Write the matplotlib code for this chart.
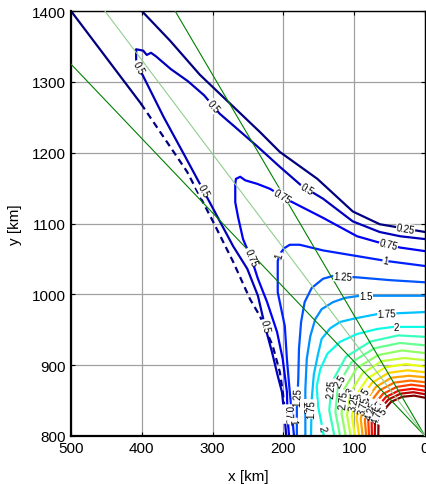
import numpy as np
import matplotlib
matplotlib.use("Agg")
import matplotlib.pyplot as plt

plt.rcParams['font.family'] = ['Liberation Sans', 'DejaVu Sans']

# ---------------- data (km) ----------------
VMIN, VMAX = 0.25, 5.0

# 0.25 contour: upper branch, left branch (solid start, then dashed)
c025_top_x = [400, 360, 318, 275, 233, 205, 152, 102, 64, 0]
c025_top_y = [1400, 1358, 1310, 1269, 1229, 1201, 1163, 1117, 1099, 1088]
c025_left_x = [500, 401]
c025_left_y = [1400, 1269]
c025_dash_x = [401, 336, 299, 271, 247, 233, 215, 205, 201, 199]
c025_dash_y = [1269, 1173, 1102, 1046, 993, 969, 927, 890, 863, 845]

c050_x = [0, 35, 64, 102, 144, 174, 205, 237, 268, 290, 312, 335, 359, 380, 387, 393,
          398, 408, 408, 405, 398, 369, 339, 318, 294, 271, 251, 236, 226, 216, 208, 202, 198, 196]
c050_y = [1078, 1082, 1088, 1103, 1135, 1153, 1180, 1209, 1236, 1255, 1281, 1301, 1318, 1336, 1341, 1338,
          1344, 1346, 1332, 1321, 1308, 1250, 1195, 1156, 1111, 1068, 1036, 998, 955, 918, 885, 862, 824, 800]

c075_x = [0, 35, 68, 96, 144, 191, 219, 237, 254, 261, 267, 268, 268, 264, 257, 244, 236, 223, 209, 201, 195, 194, 192]
c075_y = [1061, 1066, 1074, 1082, 1108, 1132, 1149, 1156, 1161, 1166, 1163, 1156, 1130, 1109, 1078, 1047, 1022,
          989, 947, 909, 862, 824, 800]

c100_x = [0, 54, 96, 144, 177, 191, 199, 205, 208, 208, 198, 195, 191, 188, 185]
c100_y = [1040, 1047, 1054, 1062, 1070, 1070, 1065, 1057, 1047, 1003, 955, 908, 862, 831, 800]

c125_x = [0, 49, 96, 130, 144, 160, 170, 175, 178, 179, 181, 181]
c125_y = [1017, 1020, 1024, 1026, 1022, 1009, 989, 961, 923, 880, 838, 800]

c150_x = [0, 50, 92, 113, 130, 146, 155, 162, 167, 169, 169, 169]
c150_y = [998, 998, 998, 995, 989, 979, 965, 941, 909, 866, 831, 800]

c175_x = [0, 68, 99, 120, 134, 146, 151, 157, 160, 161]
c175_y = [975, 972, 966, 961, 952, 937, 916, 887, 852, 800]

c200_x = [0, 45, 68, 96, 120, 138, 148, 153, 151, 146, 143]
c200_y = [954, 954, 951, 944, 933, 916, 894, 870, 842, 817, 800]

# near-source arcs around (0, 800): radius (km) at bearings 0..90 deg
arc_center = (0, 800)
arc_angles = [0, 15, 30, 45, 60, 75, 90]
arc_levels = [2.25, 2.5, 2.75, 3.0, 3.25, 3.5, 3.75, 4.0, 4.25, 4.5, 4.75, 5.0]
arc_radii = [
    [128, 140, 152, 158, 154, 147, 140],
    [120, 131, 142, 147, 143, 136, 128],
    [112, 122, 132, 136, 132, 125, 117],
    [105, 114, 122, 125, 122, 114, 107],
    [99, 107, 113, 115, 112, 105, 98],
    [93, 100, 105, 106, 103, 96, 90],
    [88, 94, 98, 98, 95, 88, 83],
    [83, 88, 91, 91, 87, 81, 76],
    [79, 83, 85, 84, 80, 75, 70],
    [75, 78, 79, 78, 74, 69, 64],
    [71, 73, 74, 73, 69, 64, 59],
    [66, 68, 69, 68, 64, 59, 54],
]
arc_label_angles = [27, 33, 24, 31, 26, 35, 27, 33, 26, 32, 25, 31]

# green rays from (0, 800): slopes (dy/dx)
ray_origin = (0, 800)
dark_ray_slopes = [1.05, 1.70]
light_ray_slopes = [1.327]

# contour labels: (level, x, y)
labels = [
    (0.25, 28, 1089),
    (0.5, 302, 1264), (0.5, 404, 1321), (0.5, 314, 1146), (0.5, 227, 955), (0.5, 167, 1149),
    (0.75, 203, 1137), (0.75, 247, 1052), (0.75, 52, 1068), (0.75, 195, 831),
    (1.0, 56, 1047), (1.0, 205, 1055), (1.0, 188, 821),
    (1.25, 116, 1026), (1.25, 179, 856),
    (1.5, 83, 995), (1.5, 168, 842),
    (1.75, 54, 971), (1.75, 154, 838),
    (2.0, 40, 954), (2.0, 143, 812),
]

xticks = [0, 100, 200, 300, 400, 500]
yticks = [800, 900, 1000, 1100, 1200, 1300, 1400]

# ---------------- figure ----------------
fig = plt.figure(figsize=(4.27, 4.85), dpi=100)
ax = fig.add_axes([71 / 427, 48 / 485, 354 / 427, 425 / 485])
ax.set_xlim(500, 0)
ax.set_ylim(800, 1400)
ax.set_xticks(xticks)
ax.set_yticks(yticks)
ax.tick_params(direction='in', length=3, top=True, right=True, labelsize=11, width=0.8)
ax.grid(True, color='#a0a0a0', lw=0.9)
ax.set_axisbelow(True)
for s in ax.spines.values():
    s.set_linewidth(1.0)
ax.spines['left'].set_linewidth(1.6)
ax.spines['bottom'].set_linewidth(1.6)

cmap = plt.get_cmap('jet')
norm = plt.Normalize(VMIN, VMAX)

lines = {}  # level -> list of (xs, ys)


def add(level, xs, ys, ls='-'):
    kw = dict(color=cmap(norm(level)), lw=1.6, solid_joinstyle='round', zorder=2)
    if ls == '--':
        ax.plot(xs, ys, dashes=(3, 2), **kw)
    else:
        ax.plot(xs, ys, **kw)
    lines.setdefault(level, []).append((np.asarray(xs, float), np.asarray(ys, float)))


add(0.25, c025_top_x, c025_top_y)
add(0.25, c025_left_x, c025_left_y)
add(0.25, c025_dash_x, c025_dash_y, '--')
add(0.5, c050_x, c050_y)
add(0.75, c075_x, c075_y)
add(1.0, c100_x, c100_y)
add(1.25, c125_x, c125_y)
add(1.5, c150_x, c150_y)
add(1.75, c175_x, c175_y)
add(2.0, c200_x, c200_y)

th = np.radians(arc_angles)
for lev, r in zip(arc_levels, arc_radii):
    r = np.asarray(r, float)
    add(lev, arc_center[0] + r * np.cos(th), arc_center[1] + r * np.sin(th))

for s in dark_ray_slopes:
    ax.axline(ray_origin, slope=s, color='#008000', lw=0.8, zorder=3)
for s in light_ray_slopes:
    ax.axline(ray_origin, slope=s, color='#8fcf8f', lw=0.8, zorder=3)


def put_label(level, px, py):
    q = ax.transData.transform((px, py))
    best = None
    for xs, ys in lines[level]:
        P = ax.transData.transform(np.column_stack([xs, ys]))
        for i in range(len(P) - 1):
            a, b = P[i], P[i + 1]
            d = b - a
            L2 = d @ d
            t = 0.0 if L2 == 0 else float(np.clip(((q - a) @ d) / L2, 0, 1))
            c = a + t * d
            dist = np.hypot(*(q - c))
            if best is None or dist < best[0]:
                best = (dist, c, d)
    _, c, d = best
    ang = np.degrees(np.arctan2(d[1], d[0]))
    if ang > 90:
        ang -= 180
    if ang < -90:
        ang += 180
    cx, cy = ax.transData.inverted().transform(c)
    ax.text(cx, cy, '%g' % level, rotation=ang, rotation_mode='anchor',
            ha='center', va='center', fontsize=7, color='k', zorder=4,
            bbox=dict(fc='white', ec='none', pad=0.2))


for lev, x, y in labels:
    put_label(lev, x, y)

for lev, r, a in zip(arc_levels, arc_radii, arc_label_angles):
    rr = np.interp(a, arc_angles, r)
    put_label(lev, arc_center[0] + rr * np.cos(np.radians(a)),
              arc_center[1] + rr * np.sin(np.radians(a)))

ax.set_xlabel('x [km]', fontsize=11)
ax.set_ylabel('y [km]', fontsize=11)
ax.xaxis.set_label_coords(0.5, -0.078)
ax.yaxis.set_label_coords(-0.138, 0.5)

fig.savefig('out.png', dpi=100)
